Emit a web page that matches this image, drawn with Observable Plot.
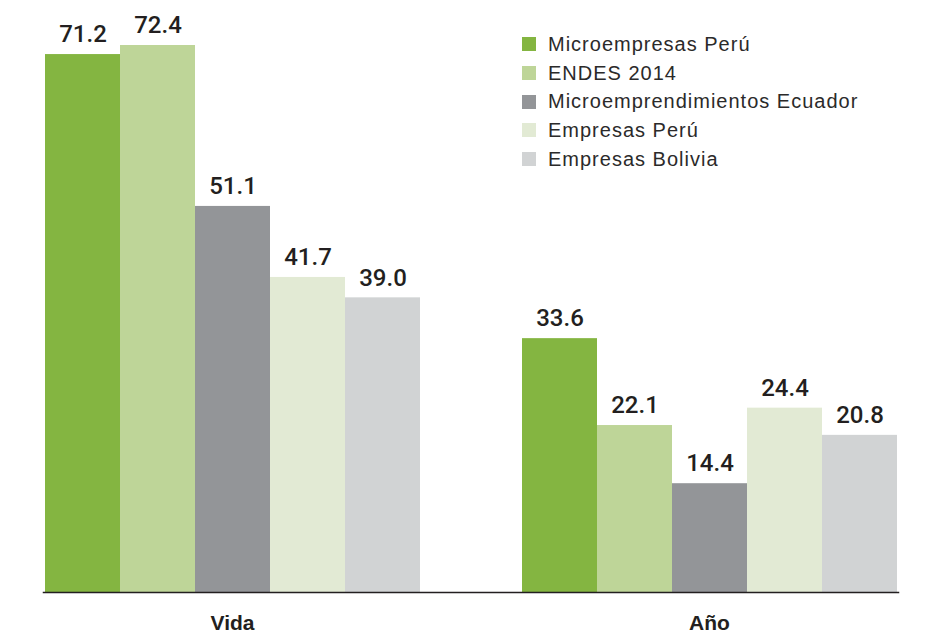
<!DOCTYPE html>
<html>
<head>
<meta charset="utf-8">
<script src="https://cdn.jsdelivr.net/npm/d3@7"></script>
<script src="https://cdn.jsdelivr.net/npm/@observablehq/plot@0.6"></script>
<style>
  body { margin: 0; background: #fff; }
  #wrap { position: relative; width: 925px; height: 633px; font-family: "Liberation Sans", Arial, sans-serif; }
  #legend { position: absolute; left: 522px; top: 30px; }
  .row { display: flex; align-items: center; height: 28.7px; font-size: 20px; letter-spacing: 1px; color: #2b2a2a; }
  .sw { width: 14px; height: 14px; margin-right: 12px; flex: none; }
</style>
</head>
<body>
<div id="wrap"></div>
<script>
const groups = ["Vida", "Año"];
const series = ["Microempresas Perú", "ENDES 2014", "Microemprendimientos Ecuador", "Empresas Perú", "Empresas Bolivia"];
const colors = ["#84b541", "#bed598", "#939598", "#e2ead4", "#d1d3d4"];
const vidaValues = [71.2, 72.4, 51.1, 41.7, 39.0];
const anoValues = [33.6, 22.1, 14.4, 24.4, 20.8];

const data = [];
series.forEach((s, i) => {
  data.push({group: groups[0], series: s, value: vidaValues[i]});
  data.push({group: groups[1], series: s, value: anoValues[i]});
});
const ymax = d3.max(data, d => d.value);

const chart = Plot.plot({
  width: 925,
  height: 633,
  marginLeft: 10,
  marginRight: 0,
  marginTop: 45,
  marginBottom: 41,
  style: {fontFamily: "'Liberation Sans', Arial, sans-serif", color: "#231f20"},
  fx: {domain: groups, range: [43, 899], paddingInner: 0.2071, paddingOuter: 0, label: null},
  x: {domain: series, padding: 0, axis: null},
  y: {domain: [0, ymax], axis: null},
  color: {domain: series, range: colors},
  marks: [
    Plot.barY(data, {fx: "group", x: "series", y: "value", fill: "series"}),
    Plot.text(data, {fx: "group", x: "series", y: "value", text: d => d.value.toFixed(1), dy: -20, fontSize: 24, fontFamily: "Roboto, 'Liberation Sans', sans-serif", fontWeight: 500, fill: "#231f20"}),
    Plot.frame({anchor: "bottom", facet: "super", stroke: "#231f20", strokeWidth: 1.5}),
    Plot.axisFx({anchor: "bottom", tickSize: 0, tickPadding: 23, fontSize: 21, fontWeight: "bold", fill: "#231f20", label: null})
  ]
});
const wrap = document.getElementById("wrap");
wrap.appendChild(chart);

const legend = document.createElement("div");
legend.id = "legend";
series.forEach((s, i) => {
  const row = document.createElement("div");
  row.className = "row";
  const sw = document.createElement("div");
  sw.className = "sw";
  sw.style.background = colors[i];
  const t = document.createElement("span");
  t.textContent = s;
  row.appendChild(sw);
  row.appendChild(t);
  legend.appendChild(row);
});
wrap.appendChild(legend);
</script>
</body>
</html>
